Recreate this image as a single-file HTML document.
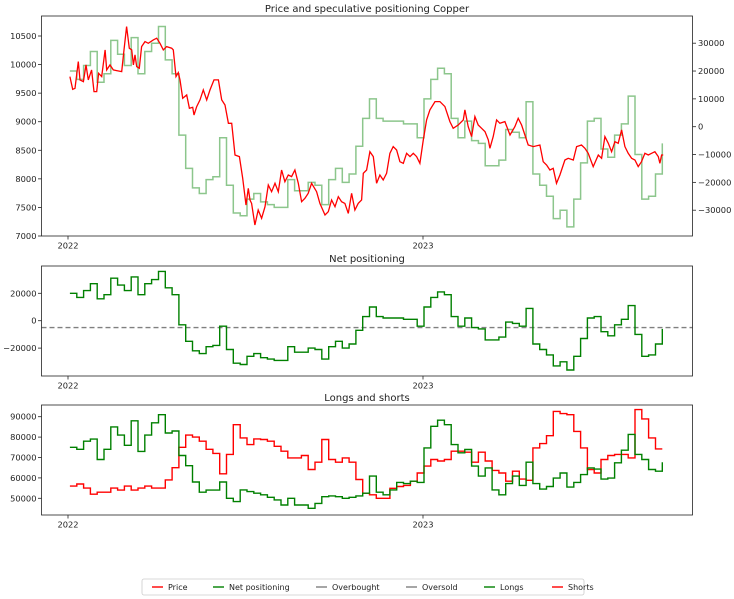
<!DOCTYPE html>
<html><head><meta charset="utf-8"><style>
html,body{margin:0;padding:0;background:#fff;}
svg{display:block;font-family:"DejaVu Sans","Liberation Sans",sans-serif;}
</style></head><body>
<svg id="c" width="734" height="599" viewBox="0 0 734 599"></svg>
<script>
// ---- data ----
const priceDays = [2,4.8,7.2,10.6,12.3,15.8,18.5,20.9,24.3,26.7,29.5,31.5,34.6,38.1,39.8,43.2,46.6,50,55.2,57.6,60.3,63,65.5,67.2,68.9,70.6,73.3,75.7,79.2,82.6,87.7,91.2,94.6,98,101.4,106.6,108.3,111,113.4,115.2,117.9,122,124.8,128.2,129.6,132.3,135.7,139.1,142.6,146,150.1,154.6,158,161.4,164.9,168.3,171.7,176.2,179.6,183,185.4,187.1,
188.8,192.2,195.6,199.1,202.5,205.9,209.3,212.8,216.2,219.6,223,226.5,229.9,233.3,236.8,240.2,243.6,247,250.5,255.6,259,264.2,267.6,271,274.5,277.9,281.3,284.7,288.2,291.6,295,298.4,301.9,303.6,307,310.4,313.9,317.3,320.7,324.1,327.6,331,334.4,337.9,341.3,344.7,348.1,351.6,355,358.4,361.8,365.3,368.7,372.1,377.3,382.4,
387.5,392.7,396.1,401.2,406.4,408.1,411.5,415,418.4,421.8,425.2,428.7,432.1,433.8,437.2,440.7,444.1,449.2,454.4,459.5,462.9,466.4,469.8,473.2,478.4,485.2,488.6,492.1,495.5,498.9,502.3,505.8,510.9,514.3,519.5,522.9,528,531.5,534.9,540,545.2,548.6,552,555.5,558.9,562.3,565.7,569.2,572.6,576,579.5,582.9,586.3,589.7,593.2,596.6,600,603.4,606.9,608.6,610.3,612];
const priceValues = [9789,9568,9585,10052,9731,9702,9994,9731,9906,9527,9527,9848,9789,10256,9906,9994,9906,9895,9877,10256,10665,10286,10256,9994,10169,9965,9935,10315,10402,10373,10432,10461,10373,10256,10315,10286,10256,9789,9860,9731,9410,9468,9235,9252,9118,9264,9381,9556,9381,9556,9731,9731,9381,9293,8972,8972,8418,8389,8009,7542,7834,7630,
7571,7192,7455,7309,7513,7893,7776,7922,7776,8155,7951,8068,8039,8155,7922,7601,7659,7747,7922,7776,7571,7367,7426,7630,7513,7688,7601,7571,7396,7747,7455,7571,7630,8097,8155,8476,8389,7922,8068,7980,8097,8447,8564,8505,8301,8272,8447,8389,8447,8389,8272,8681,9031,9206,9352,9352,
9264,9002,8885,8943,9031,9206,8914,8739,9089,8943,8885,8827,8681,8535,8739,9031,8972,9002,8768,8914,9060,8943,8768,8593,8564,8593,8301,8243,8155,8184,7922,8068,8330,8360,8330,8564,8593,8535,8447,8214,8418,8360,8739,8622,8476,8651,8622,8856,8564,8447,8360,8330,8214,8301,8447,8418,8447,8476,8389,8272,8418,8418];
// weekly positioning (thousands of contracts)
const netValues = [20,17,22,27,16,19,31,26,22,32,19,27,30,36,24,19,-3,-15,-22,-24,-19,-18,-4,
-21,-31,-32,-26,-24,-27,-28,-29,-29,-19,-23,-23,-20,-21,-28,-19,-15,-20,-17,-7,3,10,3,2,2,2,1,1,-4,10,17,21,19,3,-4,2,-5,-6,-14,-14,-12,-1,-2,-4,9,-17,-21,-25,-33,-30,-36,-26,-13,2,3,-8,-11,-3,1,11,-10,-26,-25,-17,-6];
const longsValues = [75,74,78,79,69,74,85,81,76,88,73,81,87,91,82,83,71,66,58,53,54,54,58,
50,48.4,54.1,53.3,52.5,51.7,50.5,49.2,46.7,50,46.7,46.7,45.1,47.5,50.8,51.2,50.8,50,50.5,51.2,52.5,60.9,53,51.7,54.1,57.8,57.2,58.4,57.8,74.7,85.3,88.3,86.1,76.3,72.3,73.9,65.8,60.9,64.9,54.1,51.7,57.2,60.9,56.3,67.7,57.2,54.5,55.8,59.9,62.4,55.5,57.8,61.6,64.9,64.3,59.4,59.9,67.4,73.6,81.3,71.5,69,64.1,63.3,67.7];
const shortsValues = [56,57,55,52,53,53,55,54,56,54,55,56,55,55,59,65,75,81,80,78,74,72,62,
71.5,86.1,79.6,76.3,79.1,78.8,78,75.5,73.1,69.8,69.8,71,64.1,67.7,78.8,69,67.7,69.8,67.7,59.2,52.5,51.7,50,50,54.9,55.8,56.3,58.4,62.4,65.8,69,68.3,69,73.1,73.1,72.6,67.7,72.6,68.3,63.7,62.4,58.4,63.3,59.4,58.8,74.7,76.8,80.7,92.6,91.5,91,82.8,74.7,64.1,62.4,69,71,71.5,71.5,69.8,93.5,88.9,79.6,74.2,74.2];
const oversoldLevel = -5;
const yTicksPrice = [7000,7500,8000,8500,9000,9500,10000,10500];
const yTicksRight = [-30,-20,-10,0,10,20,30];
const yTicksNet = [-20,0,20];
const yTicksLS = [50,60,70,80,90];
const xTickDays = [0,365];
const xTickLabels = ["2022","2023"];

// ---- axes ----
const L=41.5, R=692.5;
const xS = d => 68 + d*355/365;
const weekDay = i => 2 + 7*i;
const yP = p => 236 - (p-7000)*200/3500;
const yR = v => 126.7 - v*167/60;
const y2 = v => 320.7 - v*27.4/20;
const y3 = v => 416.7 + (90-v)*81.6/40;
const fmt = v => (v<0?"\u2212":"") + Math.abs(Math.round(v));
const FS = 8.3;

const svg = document.getElementById('c');
const NS='http://www.w3.org/2000/svg';
function mk(tag, attrs, parent){const e=document.createElementNS(NS,tag);for(const k in attrs)e.setAttribute(k,attrs[k]);(parent||svg).appendChild(e);return e;}
function txt(x,y,s,anchor,size,parent){const t=mk('text',{x:x,y:y,'text-anchor':anchor,'font-size':size,fill:'#222'},parent);t.textContent=s;return t;}
function stepPath(vals, ys){let d='';vals.forEach((v,i)=>{const x0=xS(weekDay(i)), x1=xS(weekDay(i+1));d+=(i?'L':'M')+x0.toFixed(1)+' '+ys(v).toFixed(1)+'L'+(i==vals.length-1?x0:x1).toFixed(1)+' '+ys(v).toFixed(1);});return d;}

function panel(name, top, bottom, title, yticks, yfun, yfmt){
  const g=mk('g',{});
  
  
  const tt=txt((L+R)/2, top-4, title, 'middle', 10, g);
  
  
  yticks.forEach(v=>{const y=yfun(v);
    mk('line',{x1:L-3.5,x2:L,y1:y,y2:y,stroke:'#222','stroke-width':0.8},g);
    const t=txt(L-5,y+3,yfmt(v),'end',FS,g);
    
    
  });
  xTickDays.forEach((d,i)=>{const x=xS(d);
    mk('line',{x1:x,x2:x,y1:bottom,y2:bottom+3.5,stroke:'#222','stroke-width':0.8},g);
    const t=txt(x,bottom+12.5,xTickLabels[i],'middle',FS,g);
    
    
  });
  return g;
}
function frame(top,bottom){mk('rect',{x:L,y:top,width:R-L,height:bottom-top,fill:'none',stroke:'#222','stroke-width':0.8});}

// Panel 1
const g1=panel('price-panel',16,236,'Price and speculative positioning Copper',yTicksPrice,yP,v=>String(v));
yTicksRight.forEach(v=>{const y=yR(v);
  mk('line',{x1:R,x2:R+3.5,y1:y,y2:y,stroke:'#222','stroke-width':0.8},g1);
  const t=txt(R+5.5,y+3,fmt(v*1000),'start',FS,g1);
  
  
});
const netLine1=mk('path',{d:stepPath(netValues,yR),fill:'none',stroke:'#008000','stroke-opacity':0.45,'stroke-width':1.5});


let pd='';priceDays.forEach((d,i)=>{pd+=(i?'L':'M')+xS(d).toFixed(1)+' '+yP(priceValues[i]).toFixed(1);});
const priceLine=mk('path',{d:pd,fill:'none',stroke:'#ff0000','stroke-width':1.3});


frame(16,236);

// Panel 2
panel('net-panel',266,376,'Net positioning',yTicksNet,y2,v=>fmt(v*1000));
const dash=mk('line',{x1:L,x2:R,y1:y2(oversoldLevel),y2:y2(oversoldLevel),stroke:'#808080','stroke-width':1.4,'stroke-dasharray':'5,3'});


const netLine=mk('path',{d:stepPath(netValues,y2),fill:'none',stroke:'#008000','stroke-width':1.4});


frame(266,376);

// Panel 3
panel('longs-shorts-panel',405,515,'Longs and shorts',yTicksLS,y3,v=>fmt(v*1000));
const sl=mk('path',{d:stepPath(shortsValues,y3),fill:'none',stroke:'#ff0000','stroke-width':1.4});


const ll=mk('path',{d:stepPath(longsValues,y3),fill:'none',stroke:'#008000','stroke-width':1.4});


frame(405,515);

// Legend
const lg=mk('g',{});


mk('rect',{x:142,y:579,width:442,height:16,rx:2,fill:'#fff',stroke:'#ccc','stroke-width':0.8},lg);
const legendItems=[['Price','#ff0000',143],['Net positioning','#008000',204],['Overbought','#808080',307],['Oversold','#808080',397],['Longs','#008000',475],['Shorts','#ff0000',543]];
legendItems.forEach(([lab,col,x])=>{
  const e=mk('g',{},lg);
  
  
  mk('line',{x1:x+9,x2:x+20,y1:587,y2:587,stroke:col,'stroke-width':1.4},e);
  txt(x+25,590,lab,'start',8,e);
});
</script>
</body></html>
